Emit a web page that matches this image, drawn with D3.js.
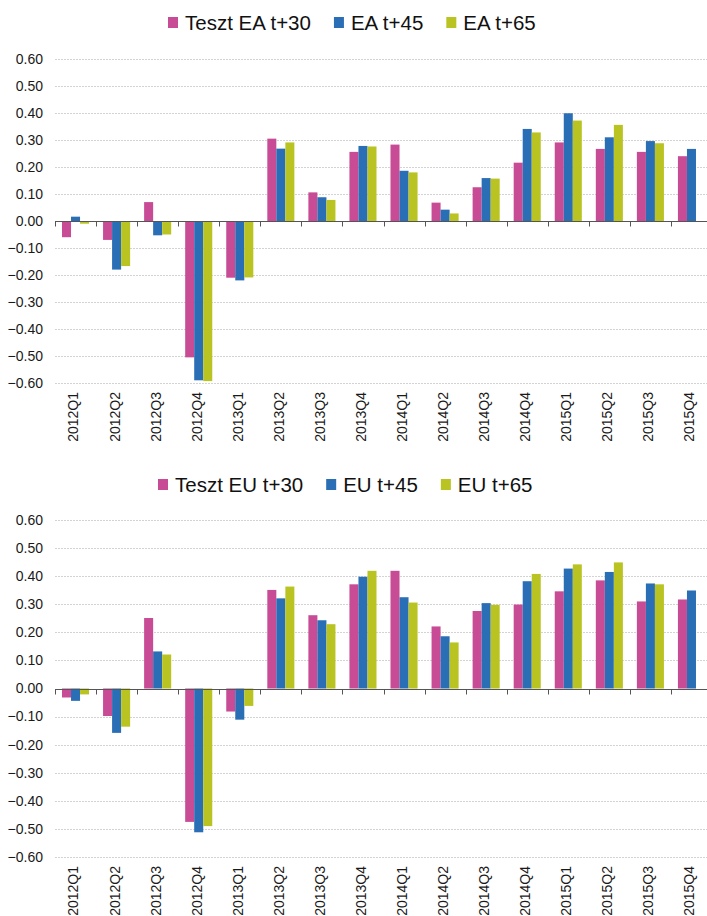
<!DOCTYPE html>
<html>
<head>
<meta charset="utf-8">
<script src="https://cdn.jsdelivr.net/npm/d3@7"></script>
<style>
  body { margin: 0; background: #fff; }
  svg { font-family: "Liberation Sans", Arial, sans-serif; }
</style>
</head>
<body>
<div id="chart"></div>
<script>
// quarters on the x axis
const quarters = ['2012Q1', '2012Q2', '2012Q3', '2012Q4', '2013Q1', '2013Q2', '2013Q3', '2013Q4',
	'2014Q1', '2014Q2', '2014Q3', '2014Q4', '2015Q1', '2015Q2', '2015Q3', '2015Q4'];

const yTicks = [0.6, 0.5, 0.4, 0.3, 0.2, 0.1, 0, -0.1, -0.2, -0.3, -0.4, -0.5, -0.6];

// euro area
const eaNames = ['Teszt EA t+30', 'EA t+45', 'EA t+65'];
const ea30 = [-0.06, -0.07, 0.07, -0.505, -0.21, 0.305, 0.106, 0.256, 0.283, 0.068, 0.125, 0.216, 0.291, 0.267, 0.256, 0.240];
const ea45 = [0.016, -0.18, -0.053, -0.59, -0.22, 0.268, 0.088, 0.278, 0.186, 0.042, 0.159, 0.341, 0.399, 0.310, 0.296, 0.267];
const ea65 = [-0.01, -0.167, -0.05, -0.593, -0.209, 0.291, 0.078, 0.276, 0.180, 0.028, 0.157, 0.328, 0.372, 0.356, 0.288, null];

// european union
const euNames = ['Teszt EU t+30', 'EU t+45', 'EU t+65'];
const eu30 = [-0.032, -0.098, 0.251, -0.475, -0.082, 0.351, 0.261, 0.371, 0.419, 0.221, 0.276, 0.299, 0.346, 0.385, 0.310, 0.317];
const eu45 = [-0.044, -0.158, 0.132, -0.512, -0.111, 0.321, 0.243, 0.398, 0.325, 0.186, 0.304, 0.382, 0.427, 0.415, 0.374, 0.349];
const eu65 = [-0.021, -0.136, 0.121, -0.490, -0.062, 0.363, 0.229, 0.419, 0.306, 0.164, 0.298, 0.408, 0.442, 0.449, 0.371, null];

const colors = ['#c84b95', '#2a6eb5', '#b9c422'];

const svg = d3.select('#chart')
	.append('svg')
	.attr('width', 707)
	.attr('height', 916);

function drawChart(cfg) {
	const g = svg.append('g');

	const x = d3.scaleBand().domain(quarters).range([55, 712]);
	const y = d3.scaleLinear().domain([-0.6, 0.6]).range([cfg.bottom, cfg.top]);
	const x1 = d3.scaleBand().domain([0, 1, 2]).range([7, x.bandwidth() - 7]);

	// gridlines
	g.selectAll('.grid')
		.data(yTicks.filter(d => d !== 0))
		.join('line')
		.attr('x1', 55)
		.attr('x2', 707)
		.attr('y1', d => Math.round(y(d)) + 0.5)
		.attr('y2', d => Math.round(y(d)) + 0.5)
		.attr('stroke', '#d3d3d3')
		.attr('stroke-dasharray', '2,1');

	// y labels
	g.selectAll('.ylab')
		.data(yTicks)
		.join('text')
		.attr('x', 43)
		.attr('y', d => y(d))
		.attr('dy', '0.35em')
		.attr('text-anchor', 'end')
		.attr('font-size', 14)
		.attr('fill', '#1a1a1a')
		.text(d => d3.format('.2f')(d));

	// bars
	cfg.series.forEach((vals, s) => {
		g.selectAll('.bar' + s)
			.data(quarters.map((q, i) => ({ q: q, v: vals[i] })).filter(d => d.v !== null))
			.join('rect')
			.attr('x', d => x(d.q) + x1(s))
			.attr('width', x1.bandwidth())
			.attr('y', d => y(Math.max(0, d.v)))
			.attr('height', d => Math.abs(y(d.v) - y(0)))
			.attr('fill', colors[s]);
	});

	// zero axis with ticks pointing down
	const zero = Math.round(y(0)) + 0.5;
	g.append('line')
		.attr('x1', 55).attr('x2', 707)
		.attr('y1', zero).attr('y2', zero)
		.attr('stroke', '#555');
	g.selectAll('.tick')
		.data(quarters)
		.join('line')
		.attr('x1', d => Math.round(x(d)) + 0.5)
		.attr('x2', d => Math.round(x(d)) + 0.5)
		.attr('y1', zero)
		.attr('y2', zero + 5)
		.attr('stroke', '#555');

	// x labels at the bottom, rotated
	g.selectAll('.xlab')
		.data(quarters)
		.join('text')
		.attr('transform', d => `translate(${x(d) + x.bandwidth() / 2 - 2}, ${cfg.bottom + 9}) rotate(-90)`)
		.attr('dy', '0.35em')
		.attr('text-anchor', 'end')
		.attr('font-size', 14)
		.attr('fill', '#1a1a1a')
		.text(d => d);

	// legend
	let lx = cfg.legendX;
	cfg.names.forEach((name, i) => {
		g.append('rect')
			.attr('x', lx)
			.attr('y', cfg.legendY - 6)
			.attr('width', 10)
			.attr('height', 11)
			.attr('fill', colors[i]);
		const t = g.append('text')
			.attr('x', lx + 17)
			.attr('y', cfg.legendY)
			.attr('dy', '0.35em')
			.attr('font-size', 20.5)
			.attr('fill', '#111')
			.text(name);
		lx += 17 + t.node().getComputedTextLength() + 23;
	});
}

drawChart({ top: 59, bottom: 383, legendX: 168, legendY: 23, names: eaNames, series: [ea30, ea45, ea65] });
drawChart({ top: 520, bottom: 857, legendX: 158, legendY: 485, names: euNames, series: [eu30, eu45, eu65] });
</script>
</body>
</html>
